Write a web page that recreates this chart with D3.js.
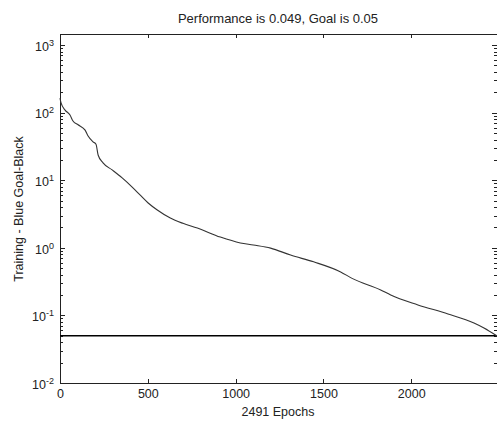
<!DOCTYPE html>
<html>
<head>
<meta charset="utf-8">
<script src="https://cdn.jsdelivr.net/npm/d3@7"></script>
<style>
  body { margin: 0; background: #fff; }
  svg { display: block; font-family: Arial, "Liberation Sans", sans-serif; }
  .axis path, .axis line { stroke: #222; shape-rendering: crispEdges; }
  .axis text { fill: #222; }
</style>
</head>
<body>
<svg id="chart" width="497" height="422"></svg>
<script>
// training performance (epoch, mse)
const epochs = [0, 6, 29, 57, 74, 103, 143, 160, 188, 205, 217, 245, 297, 354, 411, 457, 502, 554, 628,
  700, 782, 913, 1027, 1101, 1199, 1313, 1444, 1598, 1666, 1826, 1883, 2038, 2209, 2357, 2414, 2491];
const perf = [164, 139, 109, 92, 75, 66, 55, 45, 37, 34, 23.6, 18, 14.2, 10.8, 7.9, 6.0, 4.6, 3.62, 2.75,
  2.3, 1.96, 1.44, 1.18, 1.10, 0.99, 0.78, 0.62, 0.44, 0.35, 0.238, 0.2, 0.143, 0.105, 0.077, 0.065, 0.049];
const goal = 0.05;
const totalEpochs = 2491;

const xTicks = [0, 500, 1000, 1500, 2000];
const yTicks = [0.01, 0.1, 1, 10, 100, 1000];
const yExp = ["-2", "-1", "0", "1", "2", "3"];

const titleText = "Performance is 0.049, Goal is 0.05";
const xLabel = "2491 Epochs";
const yLabel = "Training - Blue Goal-Black";

const plotL = 60, plotR = 497.5, plotT = 34, plotB = 383;

const svg = d3.select("#chart");

const x = d3.scaleLinear().domain([0, totalEpochs]).range([plotL, plotR]);
const y = d3.scaleLog().domain([0.01, 1000]).range([plotB, 45]);

// minor ticks 2..9 per decade
const minor = [];
for (let k = -2; k < 3; k++) for (let m = 2; m <= 9; m++) minor.push(m * Math.pow(10, k));

// frame
svg.append("rect")
  .attr("x", plotL).attr("y", plotT)
  .attr("width", plotR - plotL).attr("height", plotB - plotT)
  .attr("fill", "none").attr("stroke", "#222")
  .attr("shape-rendering", "crispEdges");

// bottom axis
const gx = svg.append("g").attr("class", "axis")
  .attr("transform", "translate(0," + plotB + ")")
  .style("font-size", "12.5px")
  .call(d3.axisBottom(x).tickValues(xTicks).tickSizeInner(-4).tickSizeOuter(0).tickPadding(6).tickFormat(d3.format("d")));
gx.select(".domain").remove();

// top ticks
const gxt = svg.append("g").attr("class", "axis")
  .attr("transform", "translate(0," + plotT + ")")
  .call(d3.axisTop(x).tickValues(xTicks).tickSizeInner(-4).tickSizeOuter(0).tickFormat(""));
gxt.select(".domain").remove();

// left axis, major
const gy = svg.append("g").attr("class", "axis")
  .attr("transform", "translate(" + plotL + ",0)")
  .style("font-size", "12.5px")
  .call(d3.axisLeft(y).tickValues(yTicks).tickSizeInner(-5).tickSizeOuter(0).tickPadding(6).tickFormat(""));
gy.select(".domain").remove();
gy.selectAll(".tick text").each(function(d, i) {
  const t = d3.select(this).attr("dy", "0.42em");
  t.append("tspan").text("10");
  t.append("tspan").attr("dy", "-0.55em").style("font-size", "9px").text(yExp[i]);
});

// left axis, minor
const gym = svg.append("g").attr("class", "axis")
  .attr("transform", "translate(" + plotL + ",0)")
  .call(d3.axisLeft(y).tickValues(minor).tickSizeInner(-3).tickSizeOuter(0).tickFormat(""));
gym.select(".domain").remove();

// right axis mirrored
const gr = svg.append("g").attr("class", "axis")
  .attr("transform", "translate(" + (plotR - 1) + ",0)")
  .call(d3.axisRight(y).tickValues(yTicks).tickSizeInner(-5).tickSizeOuter(0).tickFormat(""));
gr.select(".domain").remove();
const grm = svg.append("g").attr("class", "axis")
  .attr("transform", "translate(" + (plotR - 1) + ",0)")
  .call(d3.axisRight(y).tickValues(minor).tickSizeInner(-3).tickSizeOuter(0).tickFormat(""));
grm.select(".domain").remove();

// goal line
svg.append("line")
  .attr("x1", x(0)).attr("x2", x(totalEpochs))
  .attr("y1", y(goal)).attr("y2", y(goal))
  .attr("stroke", "#000").attr("stroke-width", 1.4);

// training curve
const data = epochs.map((e, i) => ({ e: e, v: perf[i] }));
svg.append("path")
  .datum(data)
  .attr("fill", "none")
  .attr("stroke", "#333")
  .attr("stroke-width", 1.1)
  .attr("d", d3.line().curve(d3.curveMonotoneX).x(d => x(d.e)).y(d => y(d.v)));

// labels
svg.append("text")
  .attr("x", 278).attr("y", 23)
  .attr("text-anchor", "middle")
  .style("font-size", "13px").attr("fill", "#222")
  .text(titleText);

svg.append("text")
  .attr("x", 278).attr("y", 416)
  .attr("text-anchor", "middle")
  .style("font-size", "12.5px").attr("fill", "#222")
  .text(xLabel);

svg.append("text")
  .attr("transform", "translate(23,209)rotate(-90)")
  .attr("text-anchor", "middle")
  .style("font-size", "12.5px").attr("fill", "#222")
  .text(yLabel);
</script>
</body>
</html>
